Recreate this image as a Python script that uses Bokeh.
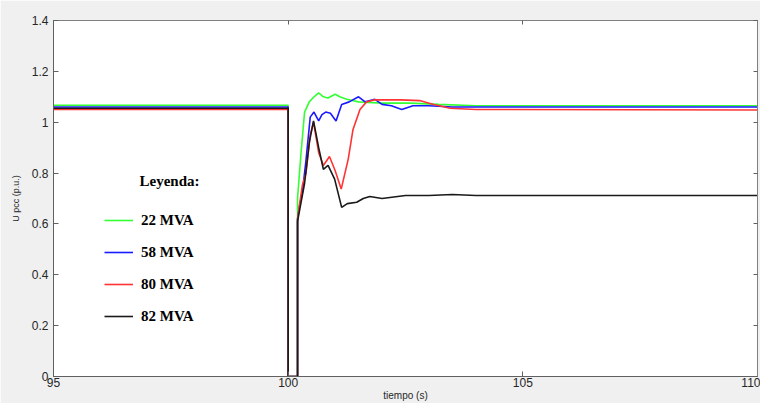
from bokeh.plotting import figure
from bokeh.models import (Range1d, FixedTicker, LinearAxis, Legend, LegendItem, Label,
                          CustomJSTickFormatter)
from bokeh.embed import file_html
from bokeh.resources import INLINE

# ---- data ----
t_22 = [95, 100, 100, 100.2, 100.2, 100.27, 100.35, 100.45, 100.55, 100.65, 100.75, 100.85,
        101.0, 101.1, 101.25, 101.5, 102.0, 102.6, 103.2, 104.0, 110]
v_22 = [1.067, 1.067, 0, 0, 0.70, 0.87, 1.04, 1.08, 1.10, 1.115, 1.10, 1.095,
        1.11, 1.10, 1.09, 1.08, 1.075, 1.075, 1.07, 1.065, 1.065]

t_58 = [95, 100, 100, 100.2, 100.2, 100.25, 100.3, 100.38, 100.47, 100.55, 100.65, 100.72,
        100.8, 100.9, 101.02, 101.14, 101.3, 101.5, 101.64, 101.85, 102.0, 102.2, 102.42,
        102.66, 103.0, 103.5, 110]
v_58 = [1.06, 1.06, 0, 0, 0.62, 0.68, 0.72, 0.85, 1.02, 1.04, 1.005, 1.03,
        1.04, 1.035, 1.005, 1.07, 1.08, 1.10, 1.08, 1.09, 1.07, 1.065, 1.05,
        1.065, 1.065, 1.06, 1.06]

t_80 = [95, 100, 100, 100.2, 100.2, 100.3, 100.38, 100.47, 100.54, 100.65, 100.75, 100.88,
        101.0, 101.13, 101.28, 101.38, 101.53, 101.67, 101.85, 102.4, 102.8, 103.1, 103.45,
        104.0, 110]
v_80 = [1.05, 1.05, 0, 0, 0.62, 0.75, 0.80, 0.95, 1.0, 0.88, 0.83, 0.865,
        0.81, 0.737, 0.855, 0.97, 1.05, 1.08, 1.088, 1.088, 1.085, 1.07, 1.055,
        1.05, 1.048]

t_82 = [95, 100, 100, 100.2, 100.2, 100.25, 100.35, 100.45, 100.54, 100.65, 100.75, 100.85,
        100.99, 101.14, 101.26, 101.46, 101.6, 101.74, 102.0, 102.5, 103.0, 103.5, 104.0, 110]
v_82 = [1.055, 1.055, 0, 0, 0.61, 0.66, 0.76, 0.92, 1.005, 0.9, 0.815, 0.83,
        0.776, 0.665, 0.68, 0.685, 0.70, 0.708, 0.70, 0.712, 0.712, 0.716, 0.712, 0.712]

labels = ["22 MVA", "58 MVA", "80 MVA", "82 MVA"]
colors = ["#33ff33", "#1a1aff", "#ff3333", "#1a1a1a"]

x_ticks = [95, 100, 105, 110]
y_ticks = [0, 0.2, 0.4, 0.6, 0.8, 1.0, 1.2, 1.4]
y_tick_labels = ["0", "0.2", "0.4", "0.6", "0.8", "1", "1.2", "1.4"]
x_title = "tiempo (s)"
y_title = "U pcc (p.u.)"

# ---- figure ----
p = figure(width=760, height=403, output_backend="svg", toolbar_location=None,
           x_range=Range1d(95, 110), y_range=Range1d(0, 1.4),
           min_border_left=53, min_border_top=20, min_border_right=3, min_border_bottom=25)
p.border_fill_color = "#f0f0f0"
p.background_fill_color = "white"
p.outline_line_color = "#808080"
p.grid.visible = False

series = [(t_22, v_22), (t_58, v_58), (t_80, v_80), (t_82, v_82)]
renderers = []
for (t, v), c in zip(series, colors):
    r = p.line(t, v, line_color=c, line_width=1.6)
    renderers.append(r)

FONT = "Liberation Sans"
for ax in (p.xaxis[0], p.yaxis[0]):
    ax.major_tick_in = 5
    ax.major_tick_out = 0
    ax.minor_tick_in = 0
    ax.minor_tick_out = 0
    ax.axis_line_color = "#606060"
    ax.major_tick_line_color = "#606060"
    ax.major_label_text_font = FONT
    ax.major_label_text_font_size = "12px"
    ax.major_label_text_color = "#262626"
    ax.axis_label_text_font = FONT
    ax.axis_label_text_font_style = "normal"
    ax.axis_label_text_color = "#262626"

p.xaxis[0].ticker = FixedTicker(ticks=x_ticks)
p.xaxis[0].major_label_standoff = 1
p.xaxis[0].axis_label = x_title
p.xaxis[0].axis_label_text_font_size = "10px"
p.xaxis[0].axis_label_standoff = 0
p.yaxis[0].ticker = FixedTicker(ticks=y_ticks)
p.yaxis[0].major_label_overrides = {k: s for k, s in zip(y_ticks, y_tick_labels)}
p.yaxis[0].axis_label = y_title
p.yaxis[0].axis_label_text_font_size = "9px"
p.yaxis[0].axis_label_standoff = 8
p.yaxis[0].major_label_standoff = 5

# mirrored ticks on top and right
for loc, tk in (("above", x_ticks), ("right", y_ticks)):
    ax = LinearAxis(ticker=FixedTicker(ticks=tk),
                    formatter=CustomJSTickFormatter(code="return ''"))
    ax.major_tick_in = 4
    ax.major_tick_out = 0
    ax.minor_tick_in = 0
    ax.minor_tick_out = 0
    ax.axis_line_color = "#808080"
    ax.major_tick_line_color = "#606060"
    ax.major_label_standoff = 0
    p.add_layout(ax, loc)

legend = Legend(items=[LegendItem(label=l, renderers=[r]) for l, r in zip(labels, renderers)],
                location=(51, 50), border_line_color=None, background_fill_alpha=0,
                padding=0, margin=0, spacing=12, label_height=20, glyph_width=29,
                glyph_height=20, label_standoff=8,
                label_text_font="Liberation Serif", label_text_font_style="bold",
                label_text_font_size="15px", label_text_color="black")
p.add_layout(legend)

p.add_layout(Label(x=86, y=188, x_units="screen", y_units="screen", text="Leyenda:",
                   text_font="Liberation Serif", text_font_style="bold", text_font_size="15px",
                   text_color="black"))

open("out.html", "w").write(file_html(p, INLINE))
